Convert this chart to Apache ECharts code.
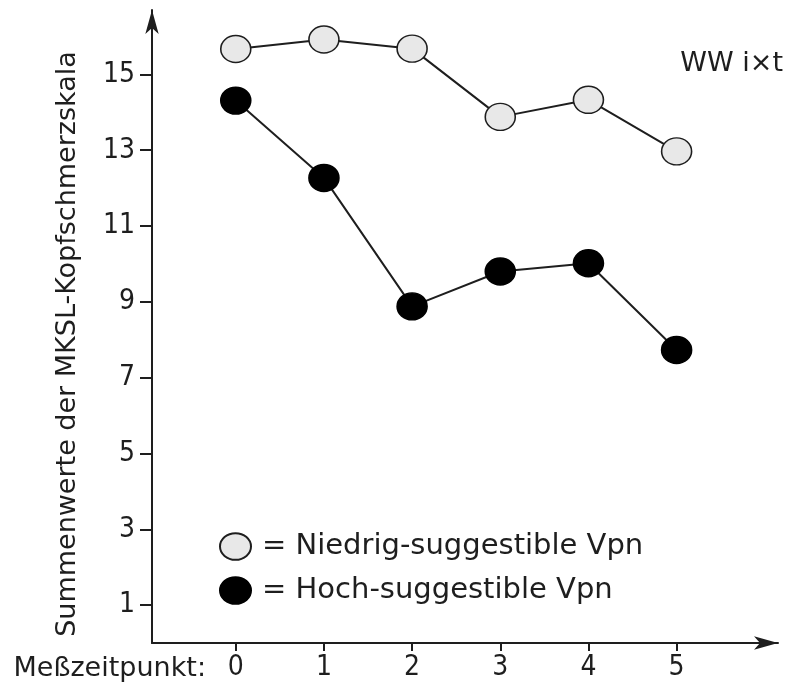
<!DOCTYPE html>
<html>
<head>
<meta charset="utf-8">
<script src="https://cdn.jsdelivr.net/npm/echarts@6/dist/echarts.min.js"></script>
<style>html,body{margin:0;padding:0;background:#fff}#c{width:787px;height:688px}</style>
</head>
<body>
<div id="c"></div>
<script>
const timePoints = [0, 1, 2, 3, 4, 5];
const niedrig = [15.67, 15.92, 15.68, 13.88, 14.33, 12.97];
const hoch = [14.31, 12.27, 8.88, 9.80, 10.02, 7.73];
const yTicks = [1, 3, 5, 7, 9, 11, 13, 15];
const xTicks = [0, 1, 2, 3, 4, 5];
const seriesNames = ['Niedrig-suggestible Vpn', 'Hoch-suggestible Vpn'];
const yTitle = 'Summenwerte der MKSL-Kopfschmerzskala';
const xTitle = 'Meßzeitpunkt:';
const note = 'WW i\u00d7t';

const FONT = '"DejaVu Sans", sans-serif';
const NUMFONT = '"DejaVu Sans Condensed", sans-serif';
const INK = '#1e1e1e';
const ELLIPSE = 'path://M0,43A50,43 0 1,1 100,43A50,43 0 1,1 0,43Z';

const chart = echarts.init(document.getElementById('c'));
chart.setOption({
  animation: false,
  backgroundColor: '#fff',
  grid: {left: 152, right: 9, top: 10, bottom: 45},
  xAxis: {
    type: 'value', min: -0.95, max: 6.15,
    splitLine: {show: false},
    axisLine: {show: true, onZero: false, symbol: ['none', 'arrow'], symbolSize: [10, 24], lineStyle: {color: INK, width: 2}},
    axisTick: {show: true, length: 8, customValues: xTicks, lineStyle: {color: INK, width: 2}},
    axisLabel: {customValues: xTicks, color: INK, fontSize: 28, fontFamily: NUMFONT, margin: 11}
  },
  yAxis: {
    type: 'value', min: 0, max: 16.7,
    splitLine: {show: false},
    axisLine: {show: true, onZero: false, symbol: ['none', 'arrow'], symbolSize: [10, 24], lineStyle: {color: INK, width: 2}},
    axisTick: {show: true, length: 12, customValues: yTicks, lineStyle: {color: INK, width: 2}},
    axisLabel: {customValues: yTicks, color: INK, fontSize: 28, fontFamily: NUMFONT, margin: 17}
  },
  legend: {
    orient: 'vertical', left: 214, top: 527,
    itemWidth: 31, itemHeight: 27, itemGap: 15,
    icon: ELLIPSE,
    formatter: n => '= ' + n,
    textStyle: {color: INK, fontSize: 29, fontFamily: FONT, lineHeight: 27, padding: [0, 0, 0, 6]},
    data: seriesNames
  },
  graphic: [
    {type: 'text', x: 68, y: 344, rotation: Math.PI / 2,
     style: {text: yTitle, fill: INK, font: '27px ' + FONT, textAlign: 'center', textVerticalAlign: 'middle'}},
    {type: 'text', x: 206, y: 669,
     style: {text: xTitle, fill: INK, font: '27px ' + FONT, textAlign: 'right', textVerticalAlign: 'middle'}},
    {type: 'text', x: 783, y: 64,
     style: {text: note, fill: INK, font: '27px ' + FONT, textAlign: 'right', textVerticalAlign: 'middle'}}
  ],
  series: [
    {
      name: seriesNames[0], type: 'line',
      data: timePoints.map((t, i) => [t, niedrig[i]]),
      symbol: 'circle', symbolSize: [30, 27], symbolKeepAspect: false,
      lineStyle: {color: INK, width: 2},
      itemStyle: {color: '#e8e8e8', borderColor: INK, borderWidth: 1.5}
    },
    {
      name: seriesNames[1], type: 'line',
      data: timePoints.map((t, i) => [t, hoch[i]]),
      symbol: 'circle', symbolSize: [30, 27], symbolKeepAspect: false,
      lineStyle: {color: INK, width: 2},
      itemStyle: {color: '#000', borderColor: '#000', borderWidth: 1.5}
    }
  ]
});
</script>
</body>
</html>
